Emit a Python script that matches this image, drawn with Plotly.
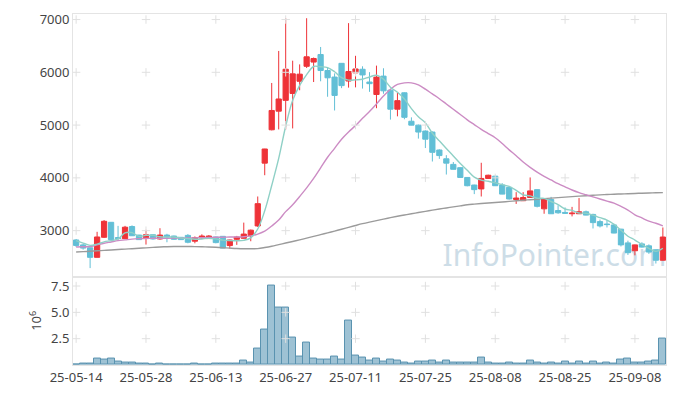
import plotly.graph_objects as go

dates = ["25-05-14","25-05-15","25-05-16","25-05-19","25-05-20","25-05-21","25-05-22","25-05-23","25-05-26","25-05-27",
         "25-05-28","25-05-29","25-05-30","25-06-02","25-06-04","25-06-05","25-06-09","25-06-10","25-06-11","25-06-12",
         "25-06-13","25-06-16","25-06-17","25-06-18","25-06-19","25-06-20","25-06-23","25-06-24","25-06-25","25-06-26",
         "25-06-27","25-06-30","25-07-01","25-07-02","25-07-03","25-07-04","25-07-07","25-07-08","25-07-09","25-07-10",
         "25-07-11","25-07-14","25-07-15","25-07-16","25-07-17","25-07-18","25-07-21","25-07-22","25-07-23","25-07-24",
         "25-07-25","25-07-28","25-07-29","25-07-30","25-07-31","25-08-01","25-08-04","25-08-05","25-08-06","25-08-07",
         "25-08-08","25-08-11","25-08-12","25-08-13","25-08-14","25-08-18","25-08-19","25-08-20","25-08-21","25-08-22",
         "25-08-25","25-08-26","25-08-27","25-08-28","25-08-29","25-09-01","25-09-02","25-09-03","25-09-04","25-09-05",
         "25-09-08","25-09-09","25-09-10","25-09-11","25-09-12"]

open_ = [2823,2730,2675,2494,2874,3158,2870,2848,3078,2916,
         2866,2922,2842,2916,2898,2873,2910,2800,2860,2850,
         2880,2892,2717,2836,2855,2903,3089,4279,4911,5264,
         5469,5599,5830,6114,6194,6337,6034,5910,6170,5835,
         5990,6058,5816,5580,5928,5662,5301,5612,5073,4999,
         4887,4868,4528,4361,4255,4193,4008,3864,3790,3989,
         4032,3864,3820,3591,3567,3628,3777,3413,3591,3381,
         3345,3320,3320,3357,3307,3171,3125,3108,3028,2768,
         2619,2749,2712,2637,2439]
high = [2842,2750,2680,2978,3200,3160,3090,3090,3100,2920,
        3015,2930,3046,2940,2905,2880,2935,2890,2930,2915,
        2885,2895,2830,2900,3152,3020,3647,4550,5798,6405,
        7025,6220,6150,7025,6280,6480,6100,5980,6175,6932,
        6313,6114,6003,6127,6077,5670,5612,5620,5147,5010,
        4900,4880,4540,4430,4300,4200,4015,3870,4286,4060,
        4040,3900,3840,3729,3729,4008,3780,3600,3640,3480,
        3440,3450,3617,3380,3320,3210,3200,3130,3035,2810,
        2735,2780,2740,2640,3060]
low = [2690,2640,2290,2494,2860,2820,2810,2840,2900,2825,
       2736,2830,2829,2780,2830,2825,2760,2760,2840,2845,
       2760,2669,2656,2730,2850,2799,3070,4050,4900,4918,
       4918,4937,5660,6082,5816,5830,5537,5277,5700,5710,
       5715,5692,5630,5320,5594,5104,5166,5110,4995,4744,
       4565,4310,4360,4063,4160,4005,3840,3692,3647,3980,
       3845,3690,3590,3506,3560,3620,3440,3320,3320,3320,
       3320,3270,3315,3290,3041,3060,3060,2950,2700,2540,
       2532,2680,2560,2377,2435]
close = [2720,2669,2494,2880,3177,2829,2850,3065,2903,2830,
         2922,2842,2916,2880,2836,2830,2780,2866,2898,2898,
         2773,2669,2823,2879,2935,3009,3511,4547,5277,5495,
         6058,5971,5965,6294,6262,6034,5896,5562,5748,6015,
         6064,5950,5785,5909,5649,5301,5463,5147,4999,4868,
         4733,4484,4422,4279,4162,4008,3851,3777,3989,4050,
         3851,3692,3600,3617,3628,3753,3461,3599,3320,3338,
         3330,3331,3357,3294,3152,3089,3115,2954,2730,2582,
         2730,2688,2594,2439,2879]

ma5 = [2810,2765,2720,2745,2788,2810,2842,2956,2961,2891,
       2910,2912,2883,2878,2879,2861,2848,2838,2842,2854,
       2843,2821,2812,2808,2816,2863,3031,3376,3856,4368,
       4978,5470,5753,5957,6110,6105,6090,6010,5900,5851,
       5857,5868,5912,5945,5871,5719,5621,5494,5312,5156,
       5042,4846,4701,4557,4416,4271,4144,4015,3957,3935,
       3904,3872,3837,3763,3678,3659,3613,3612,3552,3494,
       3410,3384,3335,3330,3293,3245,3201,3121,3008,2894,
       2822,2737,2665,2607,2666]
ma20 = [2690,2695,2700,2730,2760,2785,2810,2825,2840,2848,
        2852,2855,2856,2857,2858,2858,2860,2862,2866,2870,
        2874,2876,2878,2880,2885,2900,2935,2990,3089,3200,
        3360,3490,3647,3810,3989,4190,4391,4560,4733,4870,
        4990,5130,5258,5400,5550,5680,5770,5800,5800,5760,
        5680,5590,5500,5400,5300,5200,5100,5010,4920,4840,
        4760,4650,4530,4420,4300,4200,4110,4030,3960,3890,
        3830,3770,3720,3680,3640,3600,3560,3520,3460,3390,
        3300,3240,3180,3140,3090]
ma60 = [2595,2602,2610,2618,2626,2634,2642,2650,2658,2666,
        2674,2682,2690,2696,2700,2700,2699,2697,2694,2690,
        2684,2676,2668,2661,2656,2656,2660,2680,2705,2735,
        2765,2795,2826,2858,2890,2924,2958,2992,3026,3062,
        3098,3132,3162,3190,3218,3246,3272,3296,3320,3343,
        3366,3388,3410,3430,3450,3470,3490,3502,3513,3524,
        3534,3544,3554,3565,3576,3586,3596,3606,3616,3626,
        3635,3644,3653,3662,3670,3678,3684,3690,3695,3700,
        3705,3709,3713,3717,3720]

volume_m = [0.03,0.12,0.12,0.59,0.50,0.59,0.31,0.22,0.22,0.12,
            0.12,0.03,0.12,0.03,0.03,0.03,0.03,0.12,0.03,0.03,
            0.12,0.12,0.12,0.12,0.40,0.22,1.59,3.39,7.59,5.41,
            5.41,2.61,0.78,2.18,0.59,0.50,0.50,0.78,0.50,4.23,
            0.93,0.68,0.39,0.61,0.30,0.51,0.39,0.20,0.11,0.30,
            0.30,0.39,0.20,0.39,0.20,0.20,0.20,0.20,0.67,0.20,
            0.11,0.11,0.20,0.11,0.11,0.39,0.20,0.11,0.20,0.11,
            0.30,0.11,0.30,0.11,0.30,0.11,0.20,0.11,0.48,0.61,
            0.20,0.20,0.30,0.39,2.53]

tick_dates = dates[::10]
price_ticks = [3000, 4000, 5000, 6000, 7000]
vol_ticks = [2.5, 5.0, 7.5]

RED = "#ee3338"
BLUE = "#62bfd6"
FONT = "Noto Sans"

fig = go.Figure()

fig.add_trace(go.Candlestick(
    x=dates, open=open_, high=high, low=low, close=close,
    increasing=dict(line=dict(color=RED, width=1), fillcolor=RED),
    decreasing=dict(line=dict(color=BLUE, width=1), fillcolor=BLUE),
    whiskerwidth=0, showlegend=False, hoverinfo="skip",
    xaxis="x", yaxis="y"))

for vals, col in [(ma60, "#9b9b9b"), (ma20, "#cc8cc4"), (ma5, "#8fd0c6")]:
    fig.add_trace(go.Scatter(x=dates, y=vals, mode="lines",
                             line=dict(color=col, width=1.4, shape="spline"),
                             showlegend=False, hoverinfo="skip",
                             xaxis="x", yaxis="y"))

fig.add_trace(go.Bar(x=dates, y=volume_m, width=1.0,
                     marker=dict(color="rgba(125,174,198,0.75)",
                                 line=dict(color="#5a93b0", width=1)),
                     showlegend=False, hoverinfo="skip",
                     xaxis="x2", yaxis="y2"))

# grid crosses at tick intersections
gx, gy = [], []
for d in tick_dates:
    for p in price_ticks:
        gx.append(d); gy.append(p)
fig.add_trace(go.Scatter(x=gx, y=gy, mode="markers",
                         marker=dict(symbol="cross-thin", size=6,
                                     line=dict(color="#e0e0e0", width=1)),
                         showlegend=False, hoverinfo="skip",
                         xaxis="x", yaxis="y"))
gx2, gy2 = [], []
for d in tick_dates:
    for v in vol_ticks:
        gx2.append(d); gy2.append(v)
fig.add_trace(go.Scatter(x=gx2, y=gy2, mode="markers",
                         marker=dict(symbol="cross-thin", size=6,
                                     line=dict(color="#e0e0e0", width=1)),
                         showlegend=False, hoverinfo="skip",
                         xaxis="x2", yaxis="y2"))

axis_common = dict(showline=True, mirror=True, linecolor="#e4e4e4", linewidth=1,
                   showgrid=False, zeroline=False, ticks="",
                   tickfont=dict(family=FONT, size=13, color="#444"))

xr = [-0.45, len(dates) - 0.55]
fig.update_layout(
    width=677, height=396,
    margin=dict(l=73, r=10, t=10, b=28),
    paper_bgcolor="white", plot_bgcolor="white",
    bargap=0, boxgap=0.25, boxgroupgap=0,
    xaxis=dict(type="category", range=xr, domain=[0, 1], anchor="y",
               showticklabels=False, rangeslider=dict(visible=False),
               tickvals=tick_dates, **axis_common),
    yaxis=dict(domain=[0.252, 1], range=[2130, 7105], anchor="x",
               tickvals=price_ticks, **axis_common),
    xaxis2=dict(type="category", range=xr, domain=[0, 1], anchor="y2",
                tickvals=tick_dates, ticktext=tick_dates, **axis_common),
    yaxis2=dict(domain=[0, 0.252], range=[0, 8.4], anchor="x2",
                tickvals=vol_ticks, ticktext=["2.5", "5.0", "7.5"],
                title=dict(text="10<sup>6</sup>", standoff=6,
                           font=dict(family=FONT, size=13, color="#444")),
                **axis_common),
    shapes=[dict(type="rect", xref="paper", yref="paper",
                 x0=0.618, x1=0.99, y0=0.259, y1=0.359, layer="below",
                 line=dict(width=0), fillcolor="rgba(0,0,0,0)",
                 label=dict(text="InfoPointer.com", textposition="middle left",
                            padding=0,
                            font=dict(family=FONT, size=30, color="#cddde7")))],
)

fig.write_html("out.html", config={"displayModeBar": False},
               post_script="document.body.style.margin='0';")
